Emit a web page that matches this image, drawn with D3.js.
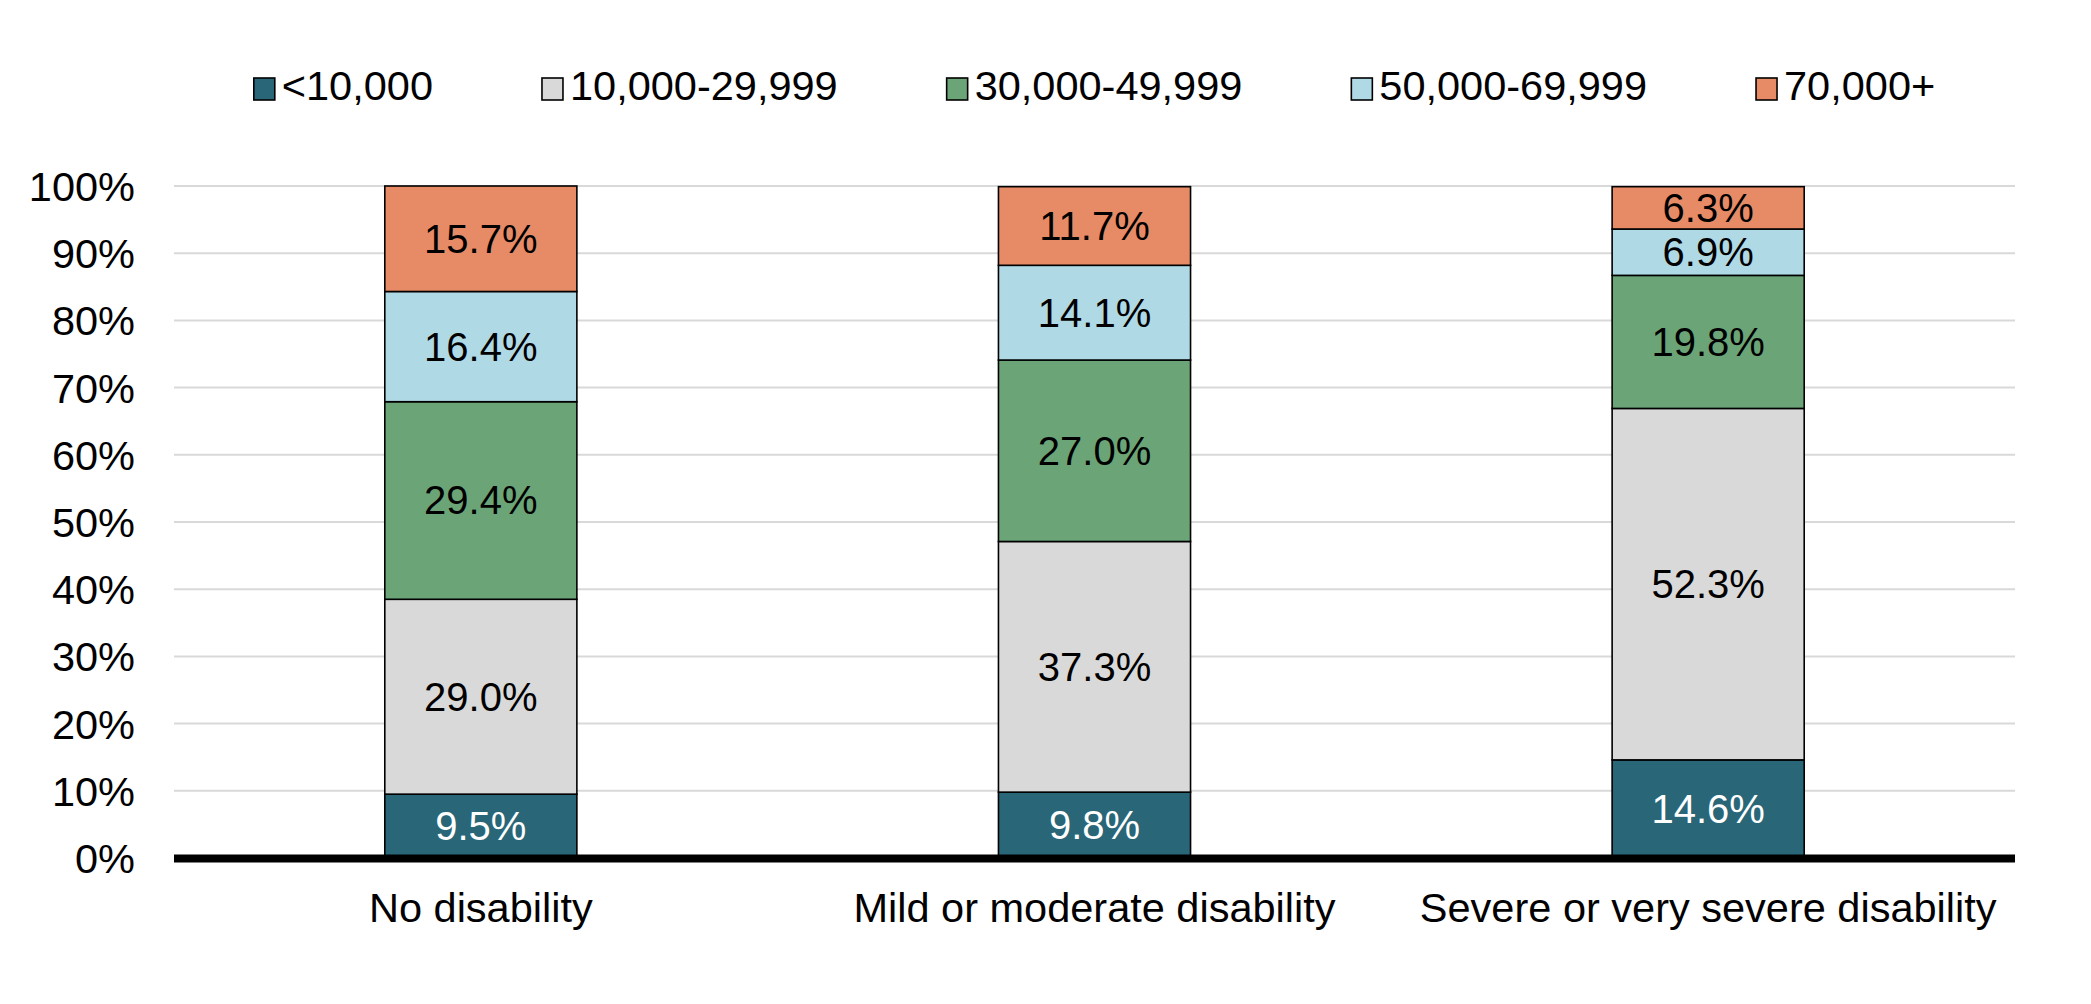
<!DOCTYPE html>
<html>
<head>
<meta charset="utf-8">
<script src="https://cdn.jsdelivr.net/npm/d3@7"></script>
<style>
  html, body { margin: 0; padding: 0; background: #fff; }
  svg { display: block; }
  text { font-family: "Liberation Sans", Arial, sans-serif; }
</style>
</head>
<body>
<svg id="chart" width="2091" height="1004"></svg>
<script>
const categories = ["No disability", "Mild or moderate disability", "Severe or very severe disability"];
const seriesNames = ["<10,000", "10,000-29,999", "30,000-49,999", "50,000-69,999", "70,000+"];
const seriesColors = ["#296678", "#d9d9d9", "#6ba577", "#b0d9e6", "#e78b67"];
const labelColors = ["#ffffff", "#000000", "#000000", "#000000", "#000000"];
const s_lt10k = [9.5, 9.8, 14.6];
const s_10to30k = [29.0, 37.3, 52.3];
const s_30to50k = [29.4, 27.0, 19.8];
const s_50to70k = [16.4, 14.1, 6.9];
const s_70kplus = [15.7, 11.7, 6.3];
const yTicks = [0, 10, 20, 30, 40, 50, 60, 70, 80, 90, 100];

const seriesValues = [s_lt10k, s_10to30k, s_30to50k, s_50to70k, s_70kplus];

const svg = d3.select("#chart");
const plotLeft = 174, plotRight = 2015, plotTop = 186, plotBottom = 858;
const dataFont = 40, axisFont = 41.5, legendFont = 41.5;

const x = d3.scaleBand().domain(categories).range([plotLeft, plotRight])
  .paddingInner(0.687).paddingOuter(0.3435);
const y = d3.scaleLinear().domain([0, 100]).range([plotBottom, plotTop]);

// gridlines
svg.append("g").selectAll("line").data(yTicks.filter(d => d > 0)).join("line")
  .attr("x1", plotLeft).attr("x2", plotRight)
  .attr("y1", d => y(d)).attr("y2", d => y(d))
  .attr("stroke", "#d9d9d9").attr("stroke-width", 2);

// y axis labels
const yAxis = d3.axisLeft(y).tickValues(yTicks).tickFormat(d => d + "%").tickSize(0).tickPadding(0);
const yg = svg.append("g").attr("transform", `translate(${plotLeft - 39},0)`).call(yAxis);
yg.select(".domain").remove();
yg.selectAll("text").attr("font-size", axisFont).attr("fill", "#000")
  .attr("font-family", '"Liberation Sans", Arial, sans-serif').attr("dy", "0.35em");

// stacked data
const table = categories.map((c, i) => {
  const row = { cat: c };
  seriesNames.forEach((s, j) => row[s] = seriesValues[j][i]);
  return row;
});
const stacked = d3.stack().keys(seriesNames)(table);

const gBars = svg.append("g");
stacked.forEach((layer, j) => {
  const g = gBars.append("g");
  g.selectAll("rect").data(layer).join("rect")
    .attr("x", d => x(d.data.cat))
    .attr("width", x.bandwidth())
    .attr("y", d => y(d[1]))
    .attr("height", d => y(d[0]) - y(d[1]))
    .attr("fill", seriesColors[j])
    .attr("stroke", "#000").attr("stroke-width", 1.6);
});
stacked.forEach((layer, j) => {
  gBars.append("g").selectAll("text").data(layer).join("text")
    .attr("x", d => x(d.data.cat) + x.bandwidth() / 2)
    .attr("y", d => (y(d[0]) + y(d[1])) / 2)
    .attr("dy", "0.35em")
    .attr("text-anchor", "middle")
    .attr("font-size", dataFont)
    .attr("fill", labelColors[j])
    .text(d => (d[1] - d[0]).toFixed(1) + "%");
});

// x axis line
svg.append("line").attr("x1", plotLeft).attr("x2", plotRight)
  .attr("y1", y(0) + 0.5).attr("y2", y(0) + 0.5)
  .attr("stroke", "#000").attr("stroke-width", 8);

// category labels
const xAxis = d3.axisBottom(x).tickSize(0).tickPadding(0);
const xg = svg.append("g").attr("transform", `translate(0,${y(0)})`).call(xAxis);
xg.select(".domain").remove();
xg.selectAll("text").attr("font-size", axisFont).attr("fill", "#000")
  .attr("font-family", '"Liberation Sans", Arial, sans-serif')
  .attr("dy", null).attr("y", 64);

// legend
const legend = svg.append("g");
const items = legend.selectAll("g").data(seriesNames).join("g");
items.append("rect").attr("x", 0).attr("y", 78).attr("width", 21).attr("height", 22)
  .attr("fill", (d, i) => seriesColors[i]).attr("stroke", "#000").attr("stroke-width", 1.6);
items.append("text").attr("x", 28).attr("y", 100).attr("font-size", legendFont).attr("fill", "#000")
  .text(d => d);
let cursor = 0;
const gap = 109;
items.each(function () {
  const w = d3.select(this).select("text").node().getComputedTextLength();
  d3.select(this).attr("data-off", cursor);
  cursor += 28 + w + gap;
});
const totalW = cursor - gap;
const startX = (plotLeft + plotRight) / 2 - totalW / 2;
items.attr("transform", function () { return `translate(${startX + (+this.getAttribute("data-off"))},0)`; });
</script>
</body>
</html>
